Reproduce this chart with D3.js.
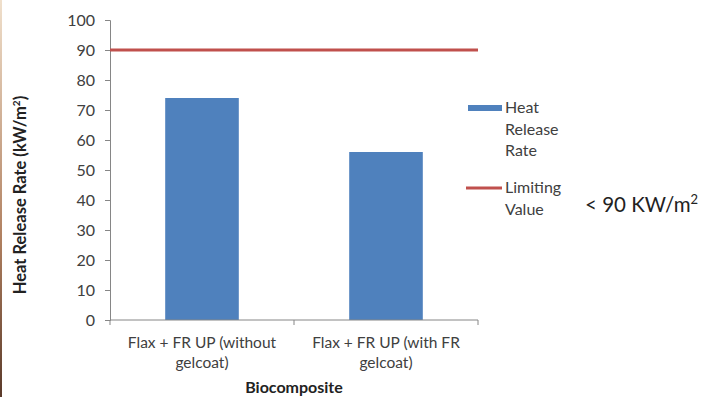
<!DOCTYPE html>
<html><head><meta charset="utf-8">
<script src="https://cdn.jsdelivr.net/npm/d3@7"></script>
<style>body{margin:0;background:#fff}svg{display:block}text{font-family:Lato,"Open Sans",sans-serif}</style>
</head><body><svg id="c" width="706" height="397"></svg>
<script>
const categories = [["Flax + FR UP (without","gelcoat)"],["Flax + FR UP (with FR","gelcoat)"]];
const heatRelease = [74, 56];
const limitingValue = 90;
const yTicks = [0,10,20,30,40,50,60,70,80,90,100];

const svg = d3.select("#c");
const x0 = 110, x1 = 478, yTop = 20, yBot = 320;
const y = d3.scaleLinear().domain([0,100]).range([yBot,yTop]);
const x = d3.scaleBand().domain(d3.range(categories.length)).range([x0,x1]).paddingInner(0.6).paddingOuter(0.3);

// left decorative edge
const g0 = svg.append("defs").append("linearGradient").attr("id","edge").attr("x1",0).attr("x2",0).attr("y1",0).attr("y2",1);
g0.append("stop").attr("offset","0%").attr("stop-color","#f0e0cc");
g0.append("stop").attr("offset","60%").attr("stop-color","#b08060");
g0.append("stop").attr("offset","100%").attr("stop-color","#5a3a2a");
svg.append("rect").attr("x",0).attr("y",0).attr("width",2).attr("height",397).attr("fill","url(#edge)");

// bars
svg.selectAll("rect.bar").data(heatRelease).join("rect").attr("class","bar")
  .attr("x",(d,i)=>x(i)).attr("width",x.bandwidth())
  .attr("y",d=>y(d)).attr("height",d=>y(0)-y(d)).attr("fill","#4f81bd");

// y axis
const ya = svg.append("g").attr("transform",`translate(${x0},0)`)
  .call(d3.axisLeft(y).tickValues(yTicks).tickSize(5).tickPadding(10));
ya.select(".domain").attr("stroke","#868686");
ya.selectAll(".tick line").attr("stroke","#868686");
ya.selectAll(".tick text").attr("fill","#404040").style("font-size","16px");

// x axis
const xa = svg.append("g").attr("transform",`translate(0,${yBot})`);
xa.append("line").attr("x1",x0).attr("x2",x1).attr("stroke","#868686");
[x0,(x0+x1)/2,x1].forEach(v=>xa.append("line").attr("x1",v).attr("x2",v).attr("y1",0).attr("y2",5).attr("stroke","#868686"));
categories.forEach((c,i)=>{
  const t = svg.append("text").attr("text-anchor","middle")
    .attr("fill","#404040").style("font-size","15.5px");
  c.forEach((l,j)=>t.append("tspan").attr("x",x(i)+x.bandwidth()/2).attr("y",348+j*20).text(l));
});

// limit line
svg.append("line").attr("x1",x0).attr("x2",x1).attr("y1",y(limitingValue)).attr("y2",y(limitingValue))
  .attr("stroke","#c0504d").attr("stroke-width",3);

// titles
svg.append("text").attr("x",(x0+x1)/2).attr("y",393).attr("text-anchor","middle")
  .style("font-size","16px").style("font-weight","bold").attr("fill","#222").text("Biocomposite");
const yt = svg.append("text").attr("transform","translate(26,195) rotate(-90)").attr("text-anchor","middle")
  .style("font-size","16.5px").style("font-weight","bold").attr("fill","#222");
yt.append("tspan").text("Heat Release Rate (kW/m");
yt.append("tspan").attr("dy",-6).style("font-size","10px").text("2");
yt.append("tspan").attr("dy",6).text(")");

// legend
svg.append("rect").attr("x",468).attr("y",105).attr("width",34).attr("height",6).attr("fill","#4f81bd");
["Heat","Release","Rate"].forEach((l,i)=>svg.append("text").attr("x",505).attr("y",113+i*21.5)
  .style("font-size","16px").attr("fill","#404040").text(l));
svg.append("line").attr("x1",466).attr("x2",502).attr("y1",188).attr("y2",188).attr("stroke","#c0504d").attr("stroke-width",3);
["Limiting","Value"].forEach((l,i)=>svg.append("text").attr("x",505).attr("y",193+i*22)
  .style("font-size","16px").attr("fill","#404040").text(l));
const lv = svg.append("text").attr("x",585).attr("y",212).style("font-size","20.5px").attr("fill","#222");
lv.append("tspan").text("< 90 KW/m");
lv.append("tspan").attr("dy",-8).style("font-size","13px").text("2");
</script></body></html>
